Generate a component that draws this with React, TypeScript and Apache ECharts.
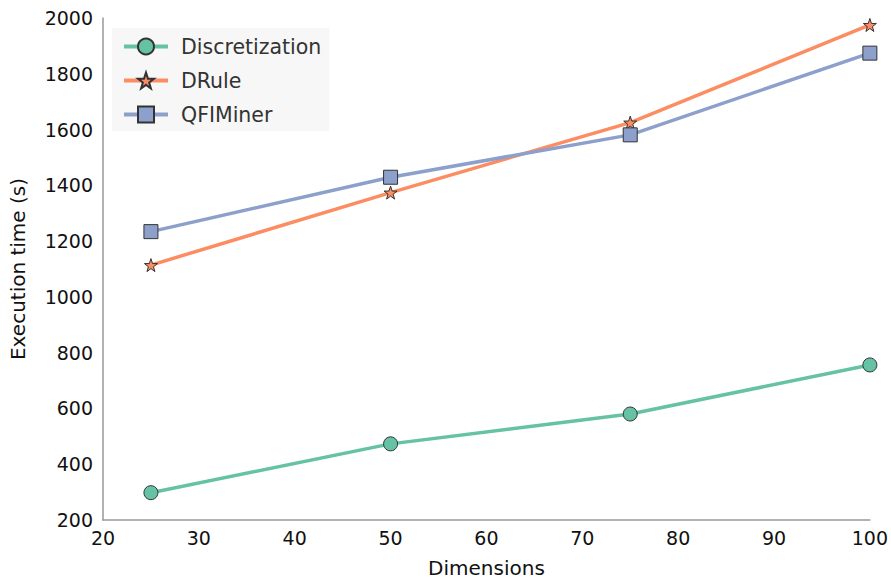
import React, { useEffect, useRef } from "react";
import * as echarts from "echarts";

const dimensions = [25, 50, 75, 100];
const discretization = [298, 473, 580, 756];
const drule = [1114, 1374, 1625, 1975];
const qfiminer = [1234, 1429, 1581, 1874];
const seriesNames = ["Discretization", "DRule", "QFIMiner"];
const seriesColors = ["#66c2a5", "#fc8d62", "#8da0cb"];
const seriesSymbols = ["circle", "path://M50,0 L61.8,35.1 L98.1,35.1 L68.9,57.4 L79.4,91.6 L50,70.6 L20.6,91.6 L31.1,57.4 L1.9,35.1 L38.2,35.1 Z", "rect"];
const seriesSizes = [14, 13, 14];

const FONT = "DejaVu Sans";

export default function App() {
  const ref = useRef<HTMLDivElement>(null);
  useEffect(() => {
    if (!ref.current) return;
    const chart = echarts.init(ref.current, undefined, { renderer: "svg" });
    const values = [discretization, drule, qfiminer];
    chart.setOption({
      animation: false,
      backgroundColor: "#ffffff",
      textStyle: { fontFamily: FONT },
      grid: { left: 103, right: 14, top: 18, bottom: 64 },
      legend: {
        orient: "vertical",
        left: 112,
        top: 28,
        padding: [8, 8, 6, 10],
        itemGap: 13,
        itemWidth: 44,
        itemHeight: 20,
        lineStyle: { width: 4 },
        backgroundColor: "#f7f7f7",
        textStyle: { fontFamily: FONT, fontSize: 20.5, color: "#333", lineHeight: 20, padding: [0, 0, 0, 8] },
        data: seriesNames,
      },
      xAxis: {
        type: "value",
        min: 20,
        max: 100,
        interval: 10,
        name: "Dimensions",
        nameLocation: "middle",
        nameGap: 38,
        nameTextStyle: { fontFamily: FONT, fontSize: 20, color: "#111" },
        axisLine: { show: true, lineStyle: { color: "#999", width: 1.5 } },
        axisTick: { show: false },
        splitLine: { show: false },
        axisLabel: { fontFamily: FONT, fontSize: 19, color: "#111", margin: 8, formatter: (v: number) => String(v) },
      },
      yAxis: {
        type: "value",
        min: 200,
        max: 2000,
        interval: 200,
        name: "Execution time (s)",
        nameLocation: "middle",
        nameGap: 75,
        nameTextStyle: { fontFamily: FONT, fontSize: 20, color: "#111" },
        axisLine: { show: true, lineStyle: { color: "#999", width: 1.5 } },
        axisTick: { show: false },
        splitLine: { show: false },
        axisLabel: { fontFamily: FONT, fontSize: 19, color: "#111", margin: 10, formatter: (v: number) => String(v) },
      },
      series: seriesNames.map((name, i) => ({
        name,
        type: "line",
        data: dimensions.map((d, j) => [d, values[i][j]]),
        symbol: seriesSymbols[i],
        symbolSize: seriesSizes[i],
        showAllSymbol: true,
        lineStyle: { color: seriesColors[i], width: 3.5 },
        itemStyle: { color: seriesColors[i], borderColor: "#333", borderWidth: 1 },
        emphasis: { disabled: true },
        z: 2 + i,
      })),
    });
    return () => chart.dispose();
  }, []);
  return (
    <div
      ref={ref}
      style={{ position: "fixed", left: 0, top: 0, width: 891, height: 584 }}
    />
  );
}
